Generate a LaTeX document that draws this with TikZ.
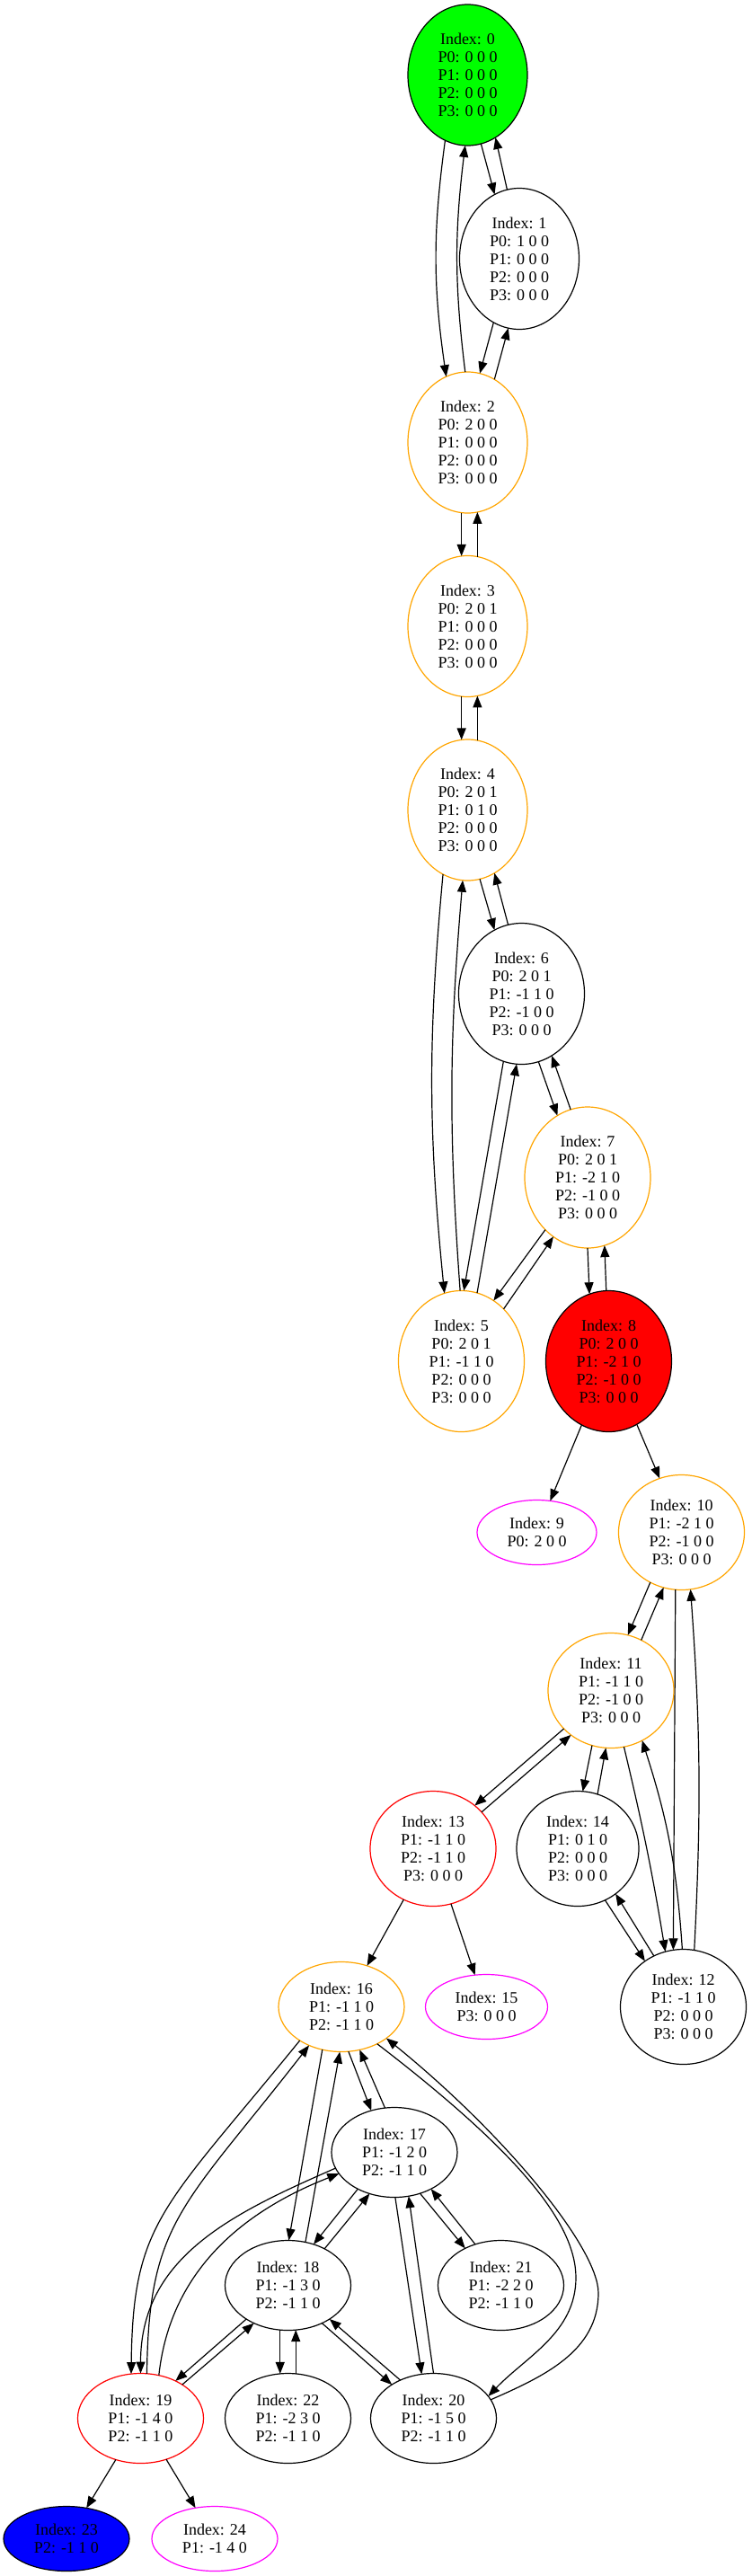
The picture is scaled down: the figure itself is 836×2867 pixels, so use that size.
\documentclass[tikz,border=0pt]{standalone}
\usepackage{fontspec}
\setmainfont{Liberation Serif}
\usepackage{tikz}
\usetikzlibrary{arrows.meta}
\usetikzlibrary{shapes.geometric}
\usetikzlibrary{positioning}
\definecolor{gvorange}{RGB}{255,165,0}
\definecolor{gvgreen}{RGB}{0,255,0}
\definecolor{gvmagenta}{RGB}{255,0,255}
\tikzstyle{state} = [draw, ellipse, inner sep = 0pt, outer sep = 0pt, line width = 1.2pt, align = center, font = \fontsize{18}{20}\selectfont]
\tikzstyle{five} = [state, minimum width = 133pt, minimum height = 157pt]
\tikzstyle{fivew} = [state, minimum width = 140pt, minimum height = 157pt]
\tikzstyle{four} = [state, minimum width = 140pt, minimum height = 128pt]
\tikzstyle{three} = [state, minimum width = 140pt, minimum height = 100pt]
\tikzstyle{two} = [state, minimum width = 140pt, minimum height = 72pt]
\tikzstyle{seen} = [draw = gvorange]
\tikzstyle{leaf} = [draw = gvmagenta]
\tikzstyle{loss} = [draw = red]
\tikzstyle{arrow} = [line width = 1.2pt, -{Triangle[length = 13pt, width = 10pt]}]

\begin{document}
\begin{tikzpicture}[x = 1pt, y = 1pt]
		\useasboundingbox (0,0) rectangle (836,-2867);

			% P0 states
			\node[five, fill = gvgreen] (n0) at (520.5,-83.5) {Index: 0\\P0: 0 0 0\\P1: 0 0 0\\P2: 0 0 0\\P3: 0 0 0};
			\node[five, below = 47.5pt of n0, xshift = 57.5pt] (n1) {Index: 1\\P0: 1 0 0\\P1: 0 0 0\\P2: 0 0 0\\P3: 0 0 0};
			\node[five, seen, below = 47.5pt of n1, xshift = -57.5pt] (n2) {Index: 2\\P0: 2 0 0\\P1: 0 0 0\\P2: 0 0 0\\P3: 0 0 0};
			\node[five, seen, below = 47.5pt of n2] (n3) {Index: 3\\P0: 2 0 1\\P1: 0 0 0\\P2: 0 0 0\\P3: 0 0 0};
			\node[five, seen, below = 47.5pt of n3] (n4) {Index: 4\\P0: 2 0 1\\P1: 0 1 0\\P2: 0 0 0\\P3: 0 0 0};
			\node[fivew, below = 47.5pt of n4, xshift = 60pt] (n6) {Index: 6\\P0: 2 0 1\\P1: -1 1 0\\P2: -1 0 0\\P3: 0 0 0};
			\node[fivew, seen, below = 47.5pt of n6, xshift = 73.5pt] (n7) {Index: 7\\P0: 2 0 1\\P1: -2 1 0\\P2: -1 0 0\\P3: 0 0 0};
			\node[fivew, fill = red, below = 47.5pt of n7, xshift = 23.5pt] (n8) {Index: 8\\P0: 2 0 0\\P1: -2 1 0\\P2: -1 0 0\\P3: 0 0 0};
			\node[fivew, seen, left = 24pt of n8] (n5) {Index: 5\\P0: 2 0 1\\P1: -1 1 0\\P2: 0 0 0\\P3: 0 0 0};
			
			% P1 states
			\node[four, seen, below = 48pt of n8, xshift = 81pt] (n10) {Index: 10\\P1: -2 1 0\\P2: -1 0 0\\P3: 0 0 0};
			\node[two, leaf, minimum width = 133pt, left = 24.5pt of n10] (n9) {Index: 9\\P0: 2 0 0};
			\node[four, seen, below = 48pt of n10, xshift = -78.5pt] (n11) {Index: 11\\P1: -1 1 0\\P2: -1 0 0\\P3: 0 0 0};
			\node[four, minimum width = 136pt, below = 48pt of n11, xshift = -37pt] (n14) {Index: 14\\P1: 0 1 0\\P2: 0 0 0\\P3: 0 0 0};
			\node[four, loss, left = 23pt of n14] (n13) {Index: 13\\P1: -1 1 0\\P2: -1 1 0\\P3: 0 0 0};
			\node[four, below = 48pt of n14, xshift = 117.5pt] (n12) {Index: 12\\P1: -1 1 0\\P2: 0 0 0\\P3: 0 0 0};
			\node[two, leaf, minimum width = 136pt, left = 81pt of n12] (n15) {Index: 15\\P3: 0 0 0};
			\node[three, seen, left = 23.5pt of n15] (n16) {Index: 16\\P1: -1 1 0\\P2: -1 1 0};
			
			% P2 states
			\node[three, below = 62pt of n16, xshift = 59pt] (n17) {Index: 17\\P1: -1 2 0\\P2: -1 1 0};
			\node[three, below = 48pt of n17, xshift = -118.5pt] (n18) {Index: 18\\P1: -1 3 0\\P2: -1 1 0};
			\node[three, right = 97pt of n18] (n21) {Index: 21\\P1: -2 2 0\\P2: -1 1 0};
			\node[three, below = 48pt of n18] (n22) {Index: 22\\P1: -2 3 0\\P2: -1 1 0};
			\node[three, loss, left = 24pt of n22] (n19) {Index: 19\\P1: -1 4 0\\P2: -1 1 0};
			\node[three, right = 22pt of n22] (n20) {Index: 20\\P1: -1 5 0\\P2: -1 1 0};
			\node[two, fill = blue, below = 48pt of n19, xshift = -82.5pt] (n23) {Index: 23\\P2: -1 1 0};
			\node[two, leaf, right = 25pt of n23] (n24) {Index: 24\\P1: -1 4 0};
			\coordinate[right = 13.5pt of n21, yshift = 8.5pt] (w1);
			\coordinate[right = 38.5pt of n21, yshift = -8.5pt] (w2);
			
			% Connect all nodes defined above
			\draw[arrow] (n0.-109) to[bend right = 8] (n2.108);
			\draw[arrow] (n2.92) to[bend left = 7] (n0.-92);
			\draw[arrow] (n0.-79) -- (n1.111);
			\draw[arrow] (n1.100) -- (n0.-66);
			\draw[arrow] (n1.-112) -- (n2.80);
			\draw[arrow] (n2.67) -- (n1.-99);
			\draw[arrow] (n2.-95) -- (n3.95);
			\draw[arrow] (n3.82) -- (n2.-82);
			\draw[arrow] (n3.-95) -- (n4.95);
			\draw[arrow] (n4.82) -- (n3.-82);
			\draw[arrow] (n4.-111) to[bend right = 5.5] (n5.104);
			\draw[arrow] (n5.91) to[bend left = 4.5] (n4.-94);
			\draw[arrow] (n4.-80) -- (n6.113);
			\draw[arrow] (n6.101) -- (n4.-67);
			\draw[arrow] (n6.-105) -- (n5.88);
			\draw[arrow] (n5.77) -- (n6.-94);
			\draw[arrow] (n6.-76) -- (n7.116);
			\draw[arrow] (n7.104) -- (n6.-64);
			\draw[arrow] (n7.-129) -- (n5.62);
			\draw[arrow] (n5.51) -- (n7.-120);
			\draw[arrow] (n7.-90) -- (n8.106);
			\draw[arrow] (n8.92) -- (n7.-76);
			\draw[arrow] (n8.-113) -- (n9.67);
			\draw[arrow] (n8.-66) -- (n10.112);
			
			\draw[arrow] (n10.-122) -- (n11.73);
			\draw[arrow] (n11.59) -- (n10.-108);
			\draw[arrow] (n10.-96) -- (n12.100);
			\draw[arrow] (n12.79) to[bend right = 3.5] (n10.-81);
			\draw[arrow] (n11.-77) to[bend left = 2] (n12.108);
			\draw[arrow] (n12.91) to[bend right = 7] (n11.-58);
			\draw[arrow] (n11.-109) -- (n14.85);
			\draw[arrow] (n14.70) -- (n11.-95);
			\draw[arrow] (n14.-62) -- (n12.130);
			\draw[arrow] (n12.120) -- (n14.-50);
			\draw[arrow] (n11.-141) -- (n13.46);
			\draw[arrow] (n13.37) -- (n11.-132);
			\draw[arrow] (n13.-120) -- (n16.58);
			\draw[arrow] (n13.-72) -- (n15.110);
			
			\draw[arrow] (n16.-81) -- (n17.119);
			\draw[arrow] (n17.102) -- (n16.-67);
			\draw[arrow] (n16.-114) -- (n18.89);
			\draw[arrow] (n18.68) -- (n16.-92);
			\draw[arrow] (n16.-141) .. controls +(-152,-187) and +(2,170) .. (n19.102);
			\draw[arrow] (n19.82) .. controls +(2,170) and +(-140,-180) .. (n16.-130);
			\draw[arrow] (n16.-46) .. controls +(159,-122) and +(0,60) .. (w1) .. controls +(0,-61) and +(42,44) .. (n20.22);
			\draw[arrow] (n20.18) .. controls +(59,26) and +(0,-65) .. (w2) .. controls +(0,50) and +(132,-107) .. (n16.-35);
			\draw[arrow] (n17.-135) -- (n18.58);
			\draw[arrow] (n18.45) -- (n17.-121);
			\draw[arrow] (n17.-165) .. controls +(-114,-50) and +(0,130) .. (n19.90);
			\draw[arrow] (n19.67) .. controls +(13,120) and +(-102,-40) .. (n17.-159);
			\draw[arrow] (n17.-89) -- (n20.105);
			\draw[arrow] (n20.90) -- (n17.-72);
			\draw[arrow] (n17.-58) -- (n21.134);
			\draw[arrow] (n21.122) -- (n17.-45);
			\draw[arrow] (n18.-141) -- (n19.47);
			\draw[arrow] (n19.39) -- (n18.-132);
			\draw[arrow] (n18.-100) -- (n22.100);
			\draw[arrow] (n22.80) -- (n18.-80);
			\draw[arrow] (n18.-48) -- (n20.141);
			\draw[arrow] (n20.131) -- (n18.-39);
			\draw[arrow] (n19.-121) -- (n23.57);
			\draw[arrow] (n19.-58) -- (n24.122);
		
		\end{tikzpicture}
\end{document}
